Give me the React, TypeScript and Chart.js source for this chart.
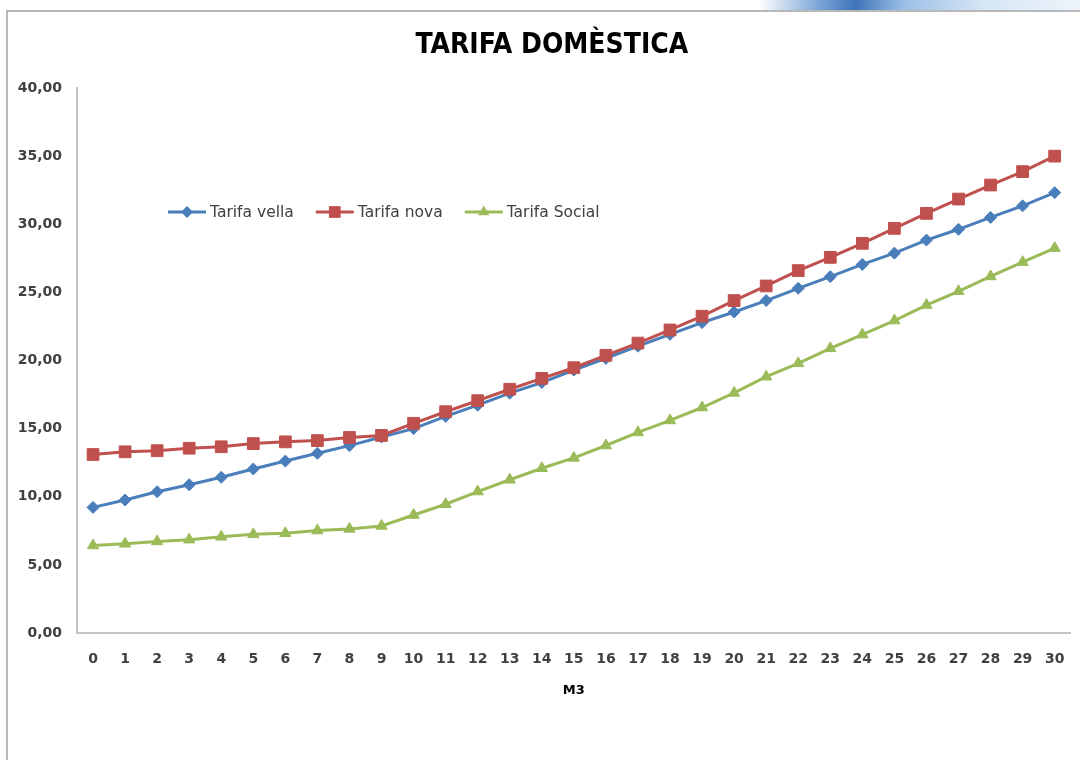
import React, { useEffect, useRef } from 'react';
import { Chart, registerables } from 'chart.js';

Chart.register(...registerables);

const CATEGORIES = ['0', '1', '2', '3', '4', '5', '6', '7', '8', '9', '10', '11', '12', '13', '14', '15', '16', '17', '18', '19', '20', '21', '22', '23', '24', '25', '26', '27', '28', '29', '30'];

const TARIFA_VELLA = [9.22, 9.76, 10.37, 10.88, 11.43, 12.04, 12.62, 13.19, 13.75, 14.38, 15.0, 15.9, 16.72, 17.6, 18.38, 19.3, 20.15, 21.05, 21.92, 22.78, 23.56, 24.4, 25.3, 26.15, 27.05, 27.88, 28.84, 29.63, 30.5, 31.35, 32.32];

const TARIFA_NOVA = [13.1, 13.3, 13.38, 13.56, 13.67, 13.9, 14.03, 14.12, 14.35, 14.5, 15.39, 16.24, 17.05, 17.89, 18.69, 19.47, 20.38, 21.28, 22.24, 23.25, 24.4, 25.47, 26.6, 27.57, 28.6, 29.7, 30.8, 31.85, 32.88, 33.86, 35.0];

const TARIFA_SOCIAL = [6.42, 6.55, 6.72, 6.85, 7.06, 7.24, 7.32, 7.52, 7.64, 7.86, 8.66, 9.45, 10.38, 11.25, 12.09, 12.85, 13.76, 14.72, 15.6, 16.55, 17.62, 18.81, 19.79, 20.89, 21.9, 22.93, 24.07, 25.08, 26.17, 27.22, 28.25];

const SERIES_LABELS = ['Tarifa vella', 'Tarifa nova', 'Tarifa Social'];
const SERIES_COLORS = ['#4A7EBB', '#C0504D', '#9BBB59'];
const TITLE = 'TARIFA DOMÈSTICA';
const X_TITLE = 'M3';

function drawMarker(ctx: CanvasRenderingContext2D, style: string, x: number, y: number, r: number, color: string) {
  ctx.save();
  ctx.fillStyle = color;
  ctx.beginPath();
  if (style === 'rect') {
    const s = Math.SQRT1_2 * r;
    ctx.rect(x - s, y - s, 2 * s, 2 * s);
  } else if (style === 'rectRot') {
    ctx.moveTo(x, y - r);
    ctx.lineTo(x + r, y);
    ctx.lineTo(x, y + r);
    ctx.lineTo(x - r, y);
    ctx.closePath();
  } else {
    let a = 0;
    ctx.moveTo(x + Math.sin(a) * r, y - Math.cos(a) * r);
    a += (2 * Math.PI) / 3;
    ctx.lineTo(x + Math.sin(a) * r, y - Math.cos(a) * r);
    a += (2 * Math.PI) / 3;
    ctx.lineTo(x + Math.sin(a) * r, y - Math.cos(a) * r);
    ctx.closePath();
  }
  ctx.fill();
  ctx.restore();
}

const insideLegend = {
  id: 'insideLegend',
  afterDatasetsDraw(chart: any) {
    const { ctx, chartArea } = chart;
    let x = chartArea.left + 91;
    const y = chartArea.top + 124;
    ctx.save();
    ctx.font = '15.5px "DejaVu Sans", sans-serif';
    ctx.textBaseline = 'middle';
    ctx.textAlign = 'left';
    chart.data.datasets.forEach((ds: any) => {
      ctx.strokeStyle = ds.borderColor;
      ctx.lineWidth = 3;
      ctx.beginPath();
      ctx.moveTo(x, y);
      ctx.lineTo(x + 38, y);
      ctx.stroke();
      drawMarker(ctx, ds.pointStyle, x + 19, y, ds.pointRadius, ds.pointBackgroundColor);
      ctx.fillStyle = '#404040';
      ctx.fillText(ds.label, x + 42, y + 1);
      x += 42 + ctx.measureText(ds.label).width + 22;
    });
    ctx.restore();
  },
};

const chartTitle = {
  id: 'chartTitle',
  afterDraw(chart: any) {
    const { ctx, chartArea } = chart;
    ctx.save();
    ctx.font = 'bold 28px "DejaVu Sans Condensed", "DejaVu Sans", sans-serif';
    ctx.fillStyle = '#000000';
    ctx.textAlign = 'center';
    ctx.textBaseline = 'middle';
    ctx.fillText(TITLE, (chartArea.left + chartArea.right) / 2 - 22, chartArea.top - 42);
    ctx.restore();
  },
};

export default function App() {
  const canvasRef = useRef<HTMLCanvasElement | null>(null);

  useEffect(() => {
    if (!canvasRef.current) return;
    const styles = ['rectRot', 'rect', 'triangle'];
    const radii = [6, 8.3, 6.5];
    const values = [TARIFA_VELLA, TARIFA_NOVA, TARIFA_SOCIAL];
    const chart = new Chart(canvasRef.current, {
      type: 'line',
      data: {
        labels: CATEGORIES,
        datasets: values.map((v, i) => ({
          label: SERIES_LABELS[i],
          data: v,
          borderColor: SERIES_COLORS[i],
          backgroundColor: SERIES_COLORS[i],
          pointBackgroundColor: SERIES_COLORS[i],
          pointBorderColor: SERIES_COLORS[i],
          pointBorderWidth: 1,
          pointStyle: styles[i],
          pointRadius: radii[i],
          borderWidth: 3,
          tension: 0,
          fill: false,
          order: 3 - i,
        })),
      },
      plugins: [insideLegend, chartTitle],
      options: {
        responsive: false,
        animation: false,
        layout: { padding: { left: 0, right: 4, top: 88, bottom: 0 } },
        plugins: {
          legend: { display: false },
          tooltip: { enabled: false },
          title: { display: false },
        },
        scales: {
          x: {
            type: 'category',
            offset: true,
            grid: { display: false, drawTicks: false },
            border: { display: true, color: '#C4C4C4', width: 2 },
            ticks: {
              color: '#404040',
              font: { family: '"DejaVu Sans", sans-serif', size: 14, weight: 'bold', lineHeight: 1.2 },
              padding: 18,
              autoSkip: false,
              maxRotation: 0,
            },
            title: {
              display: true,
              text: X_TITLE,
              color: '#000000',
              font: { family: '"DejaVu Sans", sans-serif', size: 13, weight: 'bold', lineHeight: 1.2 },
              padding: { top: 0, bottom: 62 },
            },
            afterFit: (scale: any) => {
              scale.height = 127;
              scale.paddingLeft = 0;
              scale.paddingRight = 0;
            },
          },
          y: {
            min: 0,
            max: 40,
            grid: { display: false, drawTicks: false },
            border: { display: true, color: '#C4C4C4', width: 2 },
            ticks: {
              stepSize: 5,
              color: '#404040',
              font: { family: '"DejaVu Sans", sans-serif', size: 14, weight: 'bold', lineHeight: 1.2 },
              padding: 15,
              callback: (v: any) => Number(v).toFixed(2).replace('.', ','),
            },
            afterFit: (scale: any) => {
              scale.width = 77;
            },
          },
        },
      },
    });
    return () => chart.destroy();
  }, []);

  return (
    <div style={{ position: 'fixed', left: 0, top: 0, width: 1080, height: 760, background: '#ffffff', overflow: 'hidden' }}>
      <div
        style={{
          position: 'absolute',
          left: 760,
          top: 0,
          width: 320,
          height: 11,
          background: 'linear-gradient(100deg, #ffffff 0%, #7fa8d8 18%, #3f74b8 30%, #9cc0e6 45%, #d6e6f5 70%, #eef4fa 100%)',
        }}
      />
      <div
        style={{
          position: 'absolute',
          left: 6,
          top: 10,
          width: 1120,
          height: 800,
          borderLeft: '2px solid #B8B8B8',
          borderTop: '2px solid #B8B8B8',
          background: '#ffffff',
        }}
      />
      <canvas ref={canvasRef} width={1080} height={760} style={{ position: 'absolute', left: 0, top: 0, width: 1080, height: 760 }} />
    </div>
  );
}
